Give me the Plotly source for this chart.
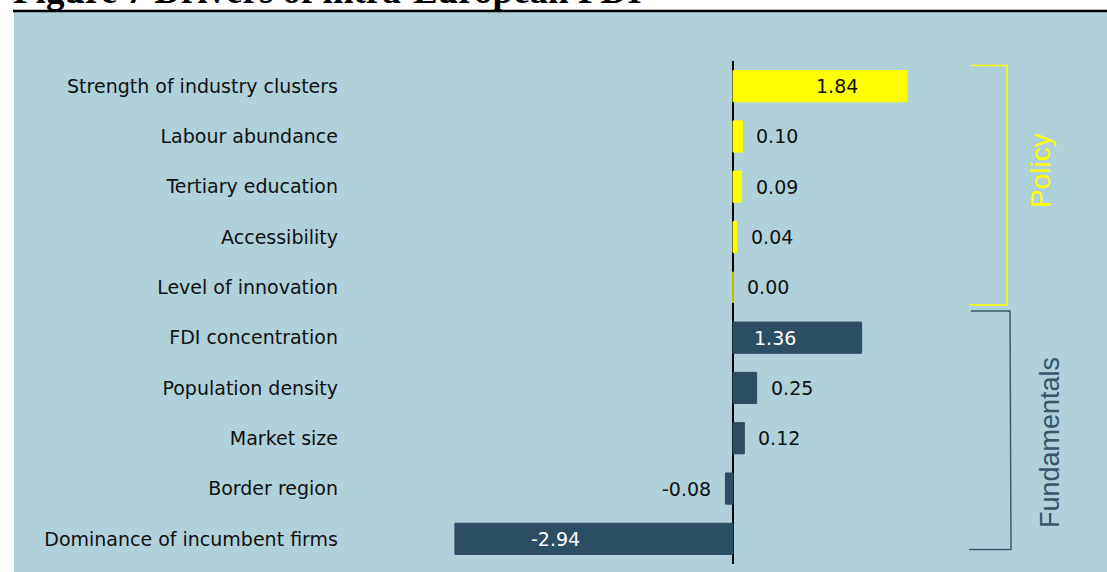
import plotly.graph_objects as go

# ---- data ----
categories = [
    "Strength of industry clusters",
    "Labour abundance",
    "Tertiary education",
    "Accessibility",
    "Level of innovation",
    "FDI concentration",
    "Population density",
    "Market size",
    "Border region",
    "Dominance of incumbent firms",
]
values = [1.84, 0.10, 0.09, 0.04, 0.00, 1.36, 0.25, 0.12, -0.08, -2.94]
groups = ["Policy"] * 5 + ["Fundamentals"] * 5
title_text = "Figure 7 Drivers of intra-European FDI"

# ---- style ----
BG = "#b0d0da"
YELLOW = "#ffff00"
DARK = "#2b4e63"
DARK_LINE = "#3b5c70"
group_color = {"Policy": YELLOW, "Fundamentals": DARK}
# labels drawn inside the bar: fraction of bar length for the label centre, colour
inside_labels = {
    "Strength of industry clusters": (0.60, "#111111"),
    "FDI concentration": (0.33, "#ffffff"),
    "Dominance of incumbent firms": (0.64, "#ffffff"),
}

W, H = 1107, 572
L, R, T, B = 345, 0, 61, 8
PW, PH = W - L - R, H - T - B
ZERO_PX = 733
SCALE = 94.6  # px per unit
x_range = [-(ZERO_PX - L) / SCALE, (W - R - ZERO_PX) / SCALE]


def px_x(px):
    """screen px -> paper x"""
    return (px - L) / PW


def px_y(py):
    """screen px -> paper y"""
    return (H - B - py) / PH


colors = [group_color[g] for g in groups]

fig = go.Figure(
    go.Bar(
        x=values,
        y=categories,
        orientation="h",
        marker=dict(color=colors, line=dict(color=colors, width=1)),
        width=0.62,
        hoverinfo="x+y",
    )
)

annotations = []
for c, v in zip(categories, values):
    txt = f"{v:.2f}"
    if c in inside_labels:
        frac, col = inside_labels[c]
        annotations.append(dict(x=v * frac, y=c, xref="x", yref="y", text=txt,
                                showarrow=False, xanchor="center",
                                font=dict(family="DejaVu Sans", size=19, color=col)))
    elif v >= 0:
        annotations.append(dict(x=v, y=c, xref="x", yref="y", text=txt,
                                showarrow=False, xanchor="left", xshift=12,
                                font=dict(family="DejaVu Sans", size=19, color="#111111")))
    else:
        annotations.append(dict(x=v, y=c, xref="x", yref="y", text=txt,
                                showarrow=False, xanchor="right", xshift=-12,
                                font=dict(family="DejaVu Sans", size=19, color="#111111")))

# group labels
annotations.append(dict(x=px_x(1040), y=px_y(171), xref="paper", yref="paper",
                        text="Policy", textangle=-90, showarrow=False,
                        xanchor="center", yanchor="middle",
                        font=dict(family="Liberation Sans", size=28, color=YELLOW)))
annotations.append(dict(x=px_x(1050), y=px_y(443), xref="paper", yref="paper",
                        text="Fundamentals", textangle=-90, showarrow=False,
                        xanchor="center", yanchor="middle",
                        font=dict(family="Liberation Sans", size=27, color="#35566b")))
# title (cut off at the top of the picture, as in the source)
annotations.append(dict(x=px_x(11), y=1, xref="paper", yref="paper",
                        text="<b>" + title_text + "</b>", showarrow=False,
                        xanchor="left", yanchor="bottom", yshift=48,
                        font=dict(family="Liberation Serif", size=37, color="#000000")))

shapes = [
    # panel background
    dict(type="rect", xref="paper", yref="paper", x0=px_x(14), x1=px_x(W + 5),
         y0=px_y(H + 5), y1=px_y(12), fillcolor=BG, line=dict(width=0), layer="below"),
    # rule under title
    dict(type="line", xref="paper", yref="paper", x0=px_x(13), x1=px_x(W + 5),
         y0=px_y(11), y1=px_y(11), line=dict(color="#000000", width=2.5)),
    # Policy bracket
    dict(type="path", xref="paper", yref="paper",
         path=f"M {px_x(971)},{px_y(65.5)} L {px_x(1007)},{px_y(65.5)} "
              f"L {px_x(1007)},{px_y(305)} L {px_x(970)},{px_y(305)}",
         line=dict(color=YELLOW, width=1.5)),
    # Fundamentals bracket
    dict(type="path", xref="paper", yref="paper",
         path=f"M {px_x(971)},{px_y(311)} L {px_x(1010)},{px_y(311)} "
              f"L {px_x(1011)},{px_y(549.5)} L {px_x(969)},{px_y(549.5)}",
         line=dict(color=DARK_LINE, width=1.5)),
]

fig.update_layout(
    width=W, height=H,
    margin=dict(l=L, r=R, t=T, b=B, pad=0),
    paper_bgcolor="#ffffff",
    plot_bgcolor="rgba(0,0,0,0)",
    showlegend=False,
    annotations=annotations,
    shapes=shapes,
    bargap=0.38,
    xaxis=dict(range=x_range, showgrid=False, showticklabels=False, ticks="",
               zeroline=True, zerolinecolor="#000000", zerolinewidth=1.5,
               showline=False, fixedrange=True),
    yaxis=dict(autorange="reversed", showgrid=False, ticks="", showline=False,
               zeroline=False, ticklabelstandoff=6,
               tickfont=dict(family="DejaVu Sans", size=19, color="#111111")),
)

fig.write_html(
    "out.html",
    config={"displayModeBar": False},
    post_script="document.body.style.margin='0';document.body.style.overflow='hidden';",
)
